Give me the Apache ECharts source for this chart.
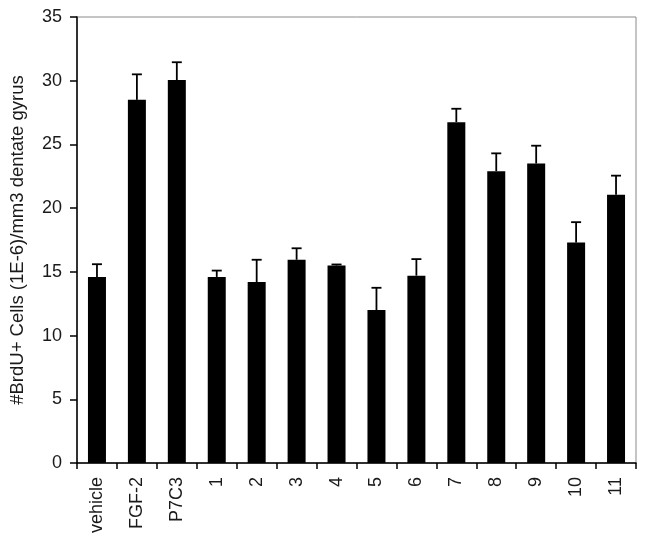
<!DOCTYPE html>
<html>
<head>
<meta charset="utf-8">
<script src="https://cdn.jsdelivr.net/npm/echarts@6/dist/echarts.min.js"></script>
<style>html,body{margin:0;padding:0;background:#fff}#c{width:645px;height:543px}</style>
</head>
<body>
<div id="c"></div>
<script>
const categories = ['vehicle','FGF-2','P7C3','1','2','3','4','5','6','7','8','9','10','11'];
const means = [14.6, 28.5, 30.05, 14.6, 14.2, 15.95, 15.5, 12.0, 14.7, 26.75, 22.9, 23.5, 17.3, 21.05];
const errors = [1.0, 2.0, 1.4, 0.5, 1.75, 0.9, 0.08, 1.75, 1.3, 1.05, 1.4, 1.4, 1.6, 1.5];
const yTicks = { min: 0, max: 35, interval: 5 };
const yTitle = '#BrdU+ Cells (1E-6)/mm3 dentate gyrus';

const font = 'Liberation Sans, Arial, sans-serif';
const chart = echarts.init(document.getElementById('c'));
chart.setOption({
  animation: false,
  grid: { left: 72, right: 9, top: 17, bottom: 80, show: true, borderColor: '#8a8a8a', borderWidth: 1 },
  xAxis: {
    type: 'category',
    data: categories,
    axisLine: { lineStyle: { color: '#000', width: 1.5 } },
    axisTick: { show: true, alignWithLabel: false, length: 6, lineStyle: { color: '#000', width: 1.5 } },
    axisLabel: { rotate: 90, color: '#1a1a1a', fontFamily: font, fontSize: 18, margin: 14, interval: 0 }
  },
  yAxis: {
    type: 'value',
    min: yTicks.min, max: yTicks.max, interval: yTicks.interval,
    name: yTitle,
    nameLocation: 'middle',
    nameGap: 50,
    nameTextStyle: { color: '#1a1a1a', fontFamily: font, fontSize: 18.5 },
    axisLine: { show: true, lineStyle: { color: '#000', width: 1.5 } },
    axisTick: { show: true, length: 7, lineStyle: { color: '#000', width: 1.5 } },
    axisLabel: { color: '#1a1a1a', fontFamily: font, fontSize: 18, margin: 15 },
    splitLine: { show: false }
  },
  series: [
    {
      type: 'bar',
      data: means,
      barWidth: 18,
      itemStyle: { color: '#000' },
      z: 2
    },
    {
      type: 'custom',
      data: means.map((m, i) => [i, m, m + errors[i]]),
      z: 3,
      renderItem: function (params, api) {
        const top = api.coord([api.value(0), api.value(2)]);
        const base = api.coord([api.value(0), api.value(1)]);
        const hw = 5;
        return {
          type: 'group',
          children: [
            { type: 'line', shape: { x1: base[0], y1: base[1], x2: top[0], y2: top[1] }, style: { stroke: '#000', lineWidth: 1.8 } },
            { type: 'line', shape: { x1: top[0] - hw, y1: top[1], x2: top[0] + hw, y2: top[1] }, style: { stroke: '#000', lineWidth: 1.8 } }
          ]
        };
      }
    }
  ]
});
</script>
</body>
</html>
